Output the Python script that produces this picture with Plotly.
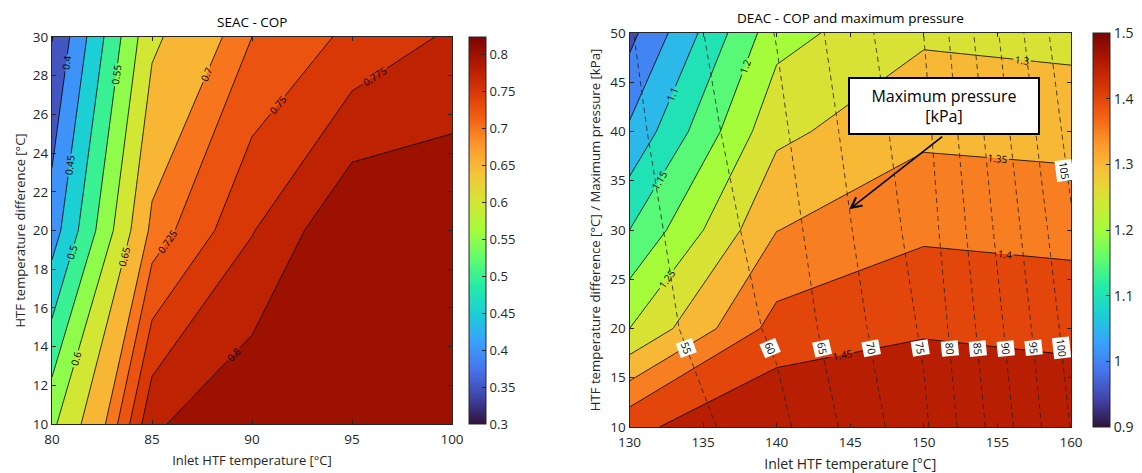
import math
import numpy as np
import plotly.graph_objects as go
from plotly.colors import sample_colorscale

# ---------------- data ----------------
seac_inlet = [80, 85, 90, 95, 100]            # Inlet HTF temperature [°C]
seac_dT = [10, 20, 30]                        # HTF temperature difference [°C]
seac_cop = [
    [0.590, 0.796, 0.8225, 0.818, 0.812],
    [0.425, 0.7105, 0.7735, 0.824, 0.821],
    [0.348, 0.6405, 0.725, 0.756, 0.779],
]
seac_levels_a = [0.35, 0.40, 0.45, 0.50, 0.55, 0.60, 0.65, 0.70]
seac_levels_b = [0.725, 0.75, 0.775, 0.80]
seac_clim = [0.30, 0.824]
seac_cbar_ticks = [0.30, 0.35, 0.40, 0.45, 0.50, 0.55, 0.60, 0.65, 0.70, 0.75, 0.80]

deac_inlet = [130, 140, 150, 160]
deac_dT = [10, 20, 30, 40, 50]
deac_cop = [
    [1.438, 1.497, 1.492, 1.488],
    [1.250, 1.419, 1.445, 1.436],
    [1.150, 1.349, 1.391, 1.384],
    [1.058, 1.288, 1.339, 1.333],
    [0.985, 1.232, 1.292, 1.284],
]
deac_pmax = [                                  # maximum pressure [kPa]
    [50.1, 58.4, 74.1, 100.2],
    [52.0, 60.9, 75.7, 102.1],
    [52.8, 62.35, 77.25, 104.3],
    [53.8, 63.8, 78.5, 106.8],
    [54.7, 65.2, 80.05, 109.4],
]
deac_levels = [0.95, 1.00, 1.05, 1.10, 1.15, 1.20, 1.25, 1.30, 1.35, 1.40, 1.45]
deac_clim = [0.9, 1.5]
deac_cbar_ticks = [0.9, 1.0, 1.1, 1.2, 1.3, 1.4, 1.5]
pmax_levels = [55, 60, 65, 70, 75, 80, 85, 90, 95, 100, 105]

# ---------------- layout constants ----------------
W, H = 1142, 473
FONT = "Open Sans"
TXT = "#262626"
L_X = [52 / W, 452 / W]
L_Y = [1 - 424 / H, 1 - 37 / H]
R_X = [629.5 / W, 1071 / W]
R_Y = [1 - 427 / H, 1 - 33 / H]


def turbo(t):
    return sample_colorscale("Turbo", [min(max(t, 0.0), 1.0)])[0]


def step_scale(colors):
    n = len(colors) - 1
    sc = []
    for k, c in enumerate(colors):
        lo = max(0.0, (k - 0.5) / n)
        hi = min(1.0, (k + 0.5) / n)
        sc.append([lo, c])
        sc.append([hi, c])
    return sc


# --- SEAC fill: uniform 0.025 sub-levels, colored by the drawn level below
seac_all = seac_levels_a + seac_levels_b
f_start, f_size = seac_levels_a[0], 0.025
n_f = int(round((seac_levels_b[-1] - f_start) / f_size)) + 1
seac_cols = [turbo(0.0)]
for j in range(n_f):
    lv = f_start + j * f_size
    lower = max(l for l in seac_all if l <= lv + 1e-9)
    seac_cols.append(turbo((lower - seac_clim[0]) / (seac_clim[1] - seac_clim[0])))
seac_scale = step_scale(seac_cols)

# --- DEAC fill
d_size = 0.05
deac_cols = [turbo(0.0)]
for lv in deac_levels:
    deac_cols.append(turbo((lv - deac_clim[0]) / (deac_clim[1] - deac_clim[0])))
deac_scale = step_scale(deac_cols)

fig = go.Figure()

fig.add_trace(go.Contour(
    x=seac_inlet, y=seac_dT, z=seac_cop, xaxis="x", yaxis="y",
    autocontour=False,
    contours=dict(start=f_start, end=seac_levels_b[-1], size=f_size, coloring="fill"),
    colorscale=seac_scale, showscale=False,
    line=dict(width=0, smoothing=0), hoverinfo="skip"))

for lv_list in (seac_levels_a, seac_levels_b):
    fig.add_trace(go.Contour(
        x=seac_inlet, y=seac_dT, z=seac_cop, xaxis="x", yaxis="y",
        autocontour=False,
        contours=dict(start=lv_list[0], end=lv_list[-1],
                      size=round(lv_list[1] - lv_list[0], 4), coloring="none",
                      showlabels=True, labelformat=".3~g",
                      labelfont=dict(family=FONT, size=10, color="black")),
        line=dict(color="black", width=0.8, smoothing=0),
        showscale=False, hoverinfo="skip"))

fig.add_trace(go.Contour(
    x=deac_inlet, y=deac_dT, z=deac_cop, xaxis="x2", yaxis="y2",
    autocontour=False,
    contours=dict(start=deac_levels[0], end=deac_levels[-1], size=d_size,
                  coloring="fill", showlabels=True, labelformat=".3~g",
                  labelfont=dict(family=FONT, size=10, color="black")),
    colorscale=deac_scale, showscale=False,
    line=dict(color="black", width=0.8, smoothing=0), hoverinfo="skip"))

fig.add_trace(go.Contour(
    x=deac_inlet, y=deac_dT, z=deac_pmax, xaxis="x2", yaxis="y2",
    autocontour=False,
    contours=dict(start=pmax_levels[0], end=pmax_levels[-1],
                  size=pmax_levels[1] - pmax_levels[0], coloring="none",
                  showlabels=False),
    line=dict(color="#202020", width=0.8, dash="5px,4px", smoothing=0),
    showscale=False, hoverinfo="skip"))

# continuous colorbars (dummy traces)
fig.add_trace(go.Scatter(
    x=[None], y=[None], xaxis="x", yaxis="y", mode="markers", showlegend=False,
    marker=dict(color=[seac_clim[0]], colorscale="Turbo", cmin=seac_clim[0],
                cmax=seac_clim[1], showscale=True,
                colorbar=dict(x=469 / W, xanchor="left", xpad=0, ypad=0,
                              y=(L_Y[0] + L_Y[1]) / 2, yanchor="middle",
                              len=L_Y[1] - L_Y[0], lenmode="fraction",
                              thickness=17, outlinewidth=1, outlinecolor=TXT,
                              ticks="inside", ticklen=4, tickcolor=TXT,
                              tickvals=seac_cbar_ticks, tickformat=".2~f",
                              tickfont=dict(family=FONT, size=13, color=TXT)))))
fig.add_trace(go.Scatter(
    x=[None], y=[None], xaxis="x2", yaxis="y2", mode="markers", showlegend=False,
    marker=dict(color=[deac_clim[0]], colorscale="Turbo", cmin=deac_clim[0],
                cmax=deac_clim[1], showscale=True,
                colorbar=dict(x=1093 / W, xanchor="left", xpad=0, ypad=0,
                              y=(R_Y[0] + R_Y[1]) / 2, yanchor="middle",
                              len=R_Y[1] - R_Y[0], lenmode="fraction",
                              thickness=17, outlinewidth=1, outlinecolor=TXT,
                              ticks="inside", ticklen=4, tickcolor=TXT,
                              tickvals=deac_cbar_ticks, tickformat=".1~f",
                              tickfont=dict(family=FONT, size=14, color=TXT)))))

# ---------------- pressure labels (white boxes) ----------------
P = np.array(deac_pmax, dtype=float)


def row_vals(y):
    return [float(np.interp(y, deac_dT, P[:, j])) for j in range(P.shape[1])]


def level_x(y, lev):
    vals = row_vals(y)
    for i in range(len(deac_inlet) - 1):
        a, b = vals[i], vals[i + 1]
        if (a - lev) * (b - lev) <= 0 and a != b:
            return deac_inlet[i] + (lev - a) / (b - a) * (deac_inlet[i + 1] - deac_inlet[i])
    return None


px_x = (R_X[1] - R_X[0]) * W / (deac_inlet[-1] - deac_inlet[0])
px_y = (R_Y[1] - R_Y[0]) * H / (deac_dT[-1] - deac_dT[0])
annotations = []
for lev in pmax_levels:
    for yrow in (18.0, 36.0):
        xc = level_x(yrow, lev)
        if xc is not None and xc < deac_inlet[-1] - 0.05:
            x_lo = level_x(yrow - 1, lev) or xc
            x_hi = level_x(yrow + 1, lev) or xc
            ang = math.degrees(math.atan2(2 * px_y, (x_lo - x_hi) * px_x))
            annotations.append(dict(
                x=min(xc, deac_inlet[-1] - 0.45), y=yrow, xref="x2", yref="y2",
                text=str(lev), showarrow=False, textangle=ang,
                bgcolor="white", borderpad=1,
                font=dict(family=FONT, size=10.5, color="black")))
            break

# callout
annotations.append(dict(
    x=151.4, y=42.6, xref="x2", yref="y2", showarrow=False,
    text="Maximum pressure<br>[kPa]", width=182, height=48, borderpad=3,
    bgcolor="white", bordercolor="black", borderwidth=2,
    font=dict(family=FONT, size=16, color="black")))
annotations.append(dict(
    x=144.93, y=32.1, ax=151.35, ay=39.6, xref="x2", yref="y2",
    axref="x2", ayref="y2", text="", showarrow=True, arrowhead=5,
    arrowsize=1.3, arrowwidth=1.6, arrowcolor="black"))

# titles
annotations.append(dict(x=sum(L_X) / 2, y=1 - 22 / H, xref="paper", yref="paper",
                        xanchor="center", yanchor="middle",
                        text="SEAC - COP", showarrow=False,
                        font=dict(family=FONT, size=13.5, color="black")))
annotations.append(dict(x=sum(R_X) / 2, y=1 - 18 / H, xref="paper", yref="paper",
                        xanchor="center", yanchor="middle",
                        text="DEAC - COP and maximum pressure", showarrow=False,
                        font=dict(family=FONT, size=13.5, color="black")))

axis_common = dict(showline=True, mirror="ticks", linecolor=TXT, linewidth=1,
                   ticks="inside", ticklen=4, tickcolor=TXT, showgrid=False,
                   zeroline=False, automargin=False,
                   tickfont=dict(family=FONT, size=13.5, color=TXT))

fig.update_layout(
    width=W, height=H, margin=dict(l=0, r=0, t=0, b=0, autoexpand=False),
    paper_bgcolor="white", plot_bgcolor="white", showlegend=False,
    font=dict(family=FONT, color=TXT),
    xaxis=dict(domain=L_X, range=[80, 100], tickvals=seac_inlet, anchor="y",
               ticklabelstandoff=3,
               title=dict(text="Inlet HTF temperature [°C]", standoff=8,
                          font=dict(family=FONT, size=13, color=TXT)),
               **axis_common),
    yaxis=dict(domain=L_Y, range=[10, 30], dtick=2, anchor="x",
               title=dict(text="HTF temperature difference [°C]", standoff=4,
                          font=dict(family=FONT, size=13, color=TXT)),
               **axis_common),
    xaxis2=dict(domain=R_X, range=[130, 160], dtick=5, anchor="y2",
                ticklabelstandoff=3,
                title=dict(text="Inlet HTF temperature [°C]", standoff=8,
                           font=dict(family=FONT, size=14, color=TXT)),
                **axis_common),
    yaxis2=dict(domain=R_Y, range=[10, 50], dtick=5, anchor="x2",
                title=dict(text="HTF temperature difference [°C] / Maximum pressure [kPa]",
                           standoff=6, font=dict(family=FONT, size=13.2, color=TXT)),
                **axis_common),
    annotations=annotations,
)

fig.write_html("out.html", config={"displayModeBar": False},
               post_script="document.body.style.margin='0';document.body.style.overflow='hidden';")
